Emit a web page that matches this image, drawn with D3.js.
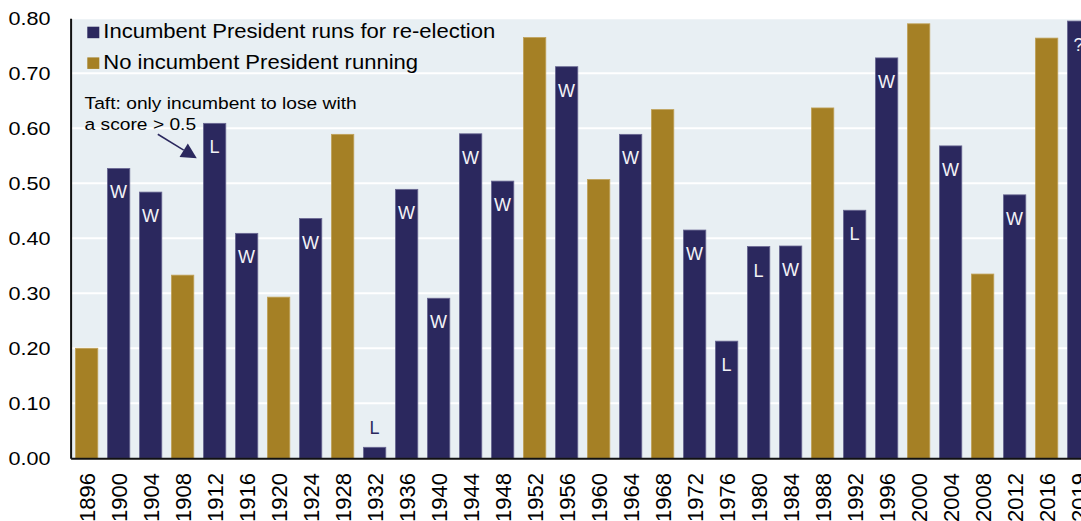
<!DOCTYPE html>
<html>
<head>
<meta charset="utf-8">
<script src="https://cdn.jsdelivr.net/npm/d3@7"></script>
<style>
  html, body { margin: 0; padding: 0; background: #fff; }
  svg { display: block; font-family: "Liberation Sans", Arial, sans-serif; }
</style>
</head>
<body>
<svg id="chart" width="1081" height="521"></svg>
<script>
// Election years and the score for each contest
const years = ["1896","1900","1904","1908","1912","1916","1920","1924","1928","1932",
               "1936","1940","1944","1948","1952","1956","1960","1964","1968","1972",
               "1976","1980","1984","1988","1992","1996","2000","2004","2008","2012",
               "2016","2019"];
const scores = [0.200, 0.527, 0.484, 0.333, 0.609, 0.409, 0.293, 0.436, 0.589, 0.020,
                0.489, 0.291, 0.590, 0.504, 0.765, 0.712, 0.507, 0.589, 0.634, 0.415,
                0.213, 0.385, 0.386, 0.637, 0.451, 0.728, 0.790, 0.568, 0.335, 0.479,
                0.764, 0.795];
// true when the sitting President was on the ballot
const incumbentRunning = [false, true, true, false, true, true, false, true, false, true,
                          true, true, true, true, false, true, false, true, false, true,
                          true, true, true, false, true, true, false, true, false, true,
                          false, true];
// Result for the incumbent (W = won, L = lost, ? = undecided)
const outcomes = ["", "W", "W", "", "L", "W", "", "W", "", "L",
                  "W", "W", "W", "W", "", "W", "", "W", "", "W",
                  "L", "L", "W", "", "L", "W", "", "W", "", "W",
                  "", "?"];
const yTicks = [0, 0.1, 0.2, 0.3, 0.4, 0.5, 0.6, 0.7, 0.8];
const seriesNames = ["Incumbent President runs for re-election", "No incumbent President running"];

const NAVY = "#2b285e";
const GOLD = "#a58025";

const svg = d3.select("#chart");
const plotLeft = 70.6, plotTop = 18.3, plotBottom = 458.3;

const x = d3.scaleBand()
  .domain(years)
  .range([plotLeft, plotLeft + 32 * years.length])
  .paddingInner(0.3)
  .paddingOuter(0.15);

const y = d3.scaleLinear().domain([0, 0.8]).range([plotBottom, plotTop]);

// plot background
svg.append("rect")
  .attr("x", plotLeft).attr("y", plotTop)
  .attr("width", 1081 - plotLeft).attr("height", plotBottom - plotTop)
  .attr("fill", "#e8eff3");

// horizontal gridlines
svg.append("g").selectAll("line")
  .data(yTicks.filter(d => d > 0))
  .join("line")
  .attr("x1", plotLeft).attr("x2", 1081)
  .attr("y1", d => y(d)).attr("y2", d => y(d))
  .attr("stroke", "#ffffff").attr("stroke-width", 2);

// bars
const data = years.map((yr, i) => ({
  year: yr, value: scores[i], inc: incumbentRunning[i], outcome: outcomes[i]
}));

svg.append("g").selectAll("rect")
  .data(data)
  .join("rect")
  .attr("x", d => x(d.year))
  .attr("y", d => y(d.value))
  .attr("width", x.bandwidth())
  .attr("height", d => y(0) - y(d.value))
  .attr("fill", d => d.inc ? NAVY : GOLD)
  .attr("stroke", d => d.inc ? "#6a6893" : "#c0a25a")
  .attr("stroke-width", 0.8);

// outcome letters: inside the bar when it is tall enough, above it otherwise
svg.append("g").selectAll("text")
  .data(data.filter(d => d.outcome))
  .join("text")
  .attr("x", d => x(d.year) + x.bandwidth() / 2)
  .attr("y", d => d.value > 0.1 ? y(d.value) + 30 : y(d.value) - 13.5)
  .attr("text-anchor", "middle")
  .attr("font-size", 18)
  .attr("fill", d => d.value > 0.1 ? "#f2f2f7" : NAVY)
  .text(d => d.outcome);

// y axis
const yAxis = svg.append("g")
  .attr("transform", `translate(${plotLeft},0)`)
  .call(d3.axisLeft(y).tickValues(yTicks).tickFormat(d3.format(".2f")).tickSize(0).tickSizeOuter(0));
yAxis.select(".domain").attr("stroke", "#111").attr("stroke-width", 2);
yAxis.selectAll(".tick text")
  .attr("x", 0).attr("dy", "0.35em")
  .attr("transform", "translate(-20,0) scale(1.2,1)")
  .attr("font-size", 18)
  .attr("font-family", "'Liberation Sans', Arial, sans-serif")
  .attr("fill", "#000");

// x axis with vertical year labels
const xAxis = svg.append("g")
  .attr("transform", `translate(0,${plotBottom})`)
  .call(d3.axisBottom(x).tickSize(0).tickSizeOuter(0));
xAxis.select(".domain").attr("stroke", "#111").attr("stroke-width", 2);
xAxis.selectAll(".tick text")
  .attr("transform", "rotate(-90)")
  .attr("x", -14.7).attr("y", 0).attr("dy", "0.36em")
  .attr("text-anchor", "end")
  .attr("font-size", 22)
  .attr("font-family", "'Liberation Sans', Arial, sans-serif")
  .attr("fill", "#000");

// legend
const legend = svg.append("g");
seriesNames.forEach((name, i) => {
  const rowY = 38.3 + i * 30.7;
  legend.append("rect")
    .attr("x", 87.3).attr("y", rowY - 11.6)
    .attr("width", 12).attr("height", 11.5)
    .attr("fill", i === 0 ? NAVY : GOLD);
  legend.append("text")
    .attr("transform", `translate(103.3,${rowY}) scale(1.05,1)`)
    .attr("font-size", 21)
    .attr("fill", "#000")
    .text(name);
});

// annotation about 1912
const note = svg.append("g");
["Taft: only incumbent to lose with", "a score > 0.5"].forEach((line, i) => {
  note.append("text")
    .attr("transform", `translate(84.6,${108.7 + i * 21.6}) scale(1.13,1)`)
    .attr("font-size", 17)
    .attr("fill", "#000")
    .text(line);
});

const tip = [x("1912") - 6.6, y(0.5456)];
const start = [x("1912") - 45.6, y(0.5892)];
const dx = tip[0] - start[0], dyv = tip[1] - start[1];
const len = Math.hypot(dx, dyv);
const ux = dx / len, uy = dyv / len;
const headLen = 15.4, halfW = 7.9;
const base = [tip[0] - ux * headLen, tip[1] - uy * headLen];
note.append("line")
  .attr("x1", start[0]).attr("y1", start[1])
  .attr("x2", base[0]).attr("y2", base[1])
  .attr("stroke", NAVY).attr("stroke-width", 1.5);
note.append("polygon")
  .attr("points", [
    tip,
    [base[0] - uy * halfW, base[1] + ux * halfW],
    [base[0] + uy * halfW, base[1] - ux * halfW]
  ].map(p => p.join(",")).join(" "))
  .attr("fill", NAVY);
</script>
</body>
</html>
